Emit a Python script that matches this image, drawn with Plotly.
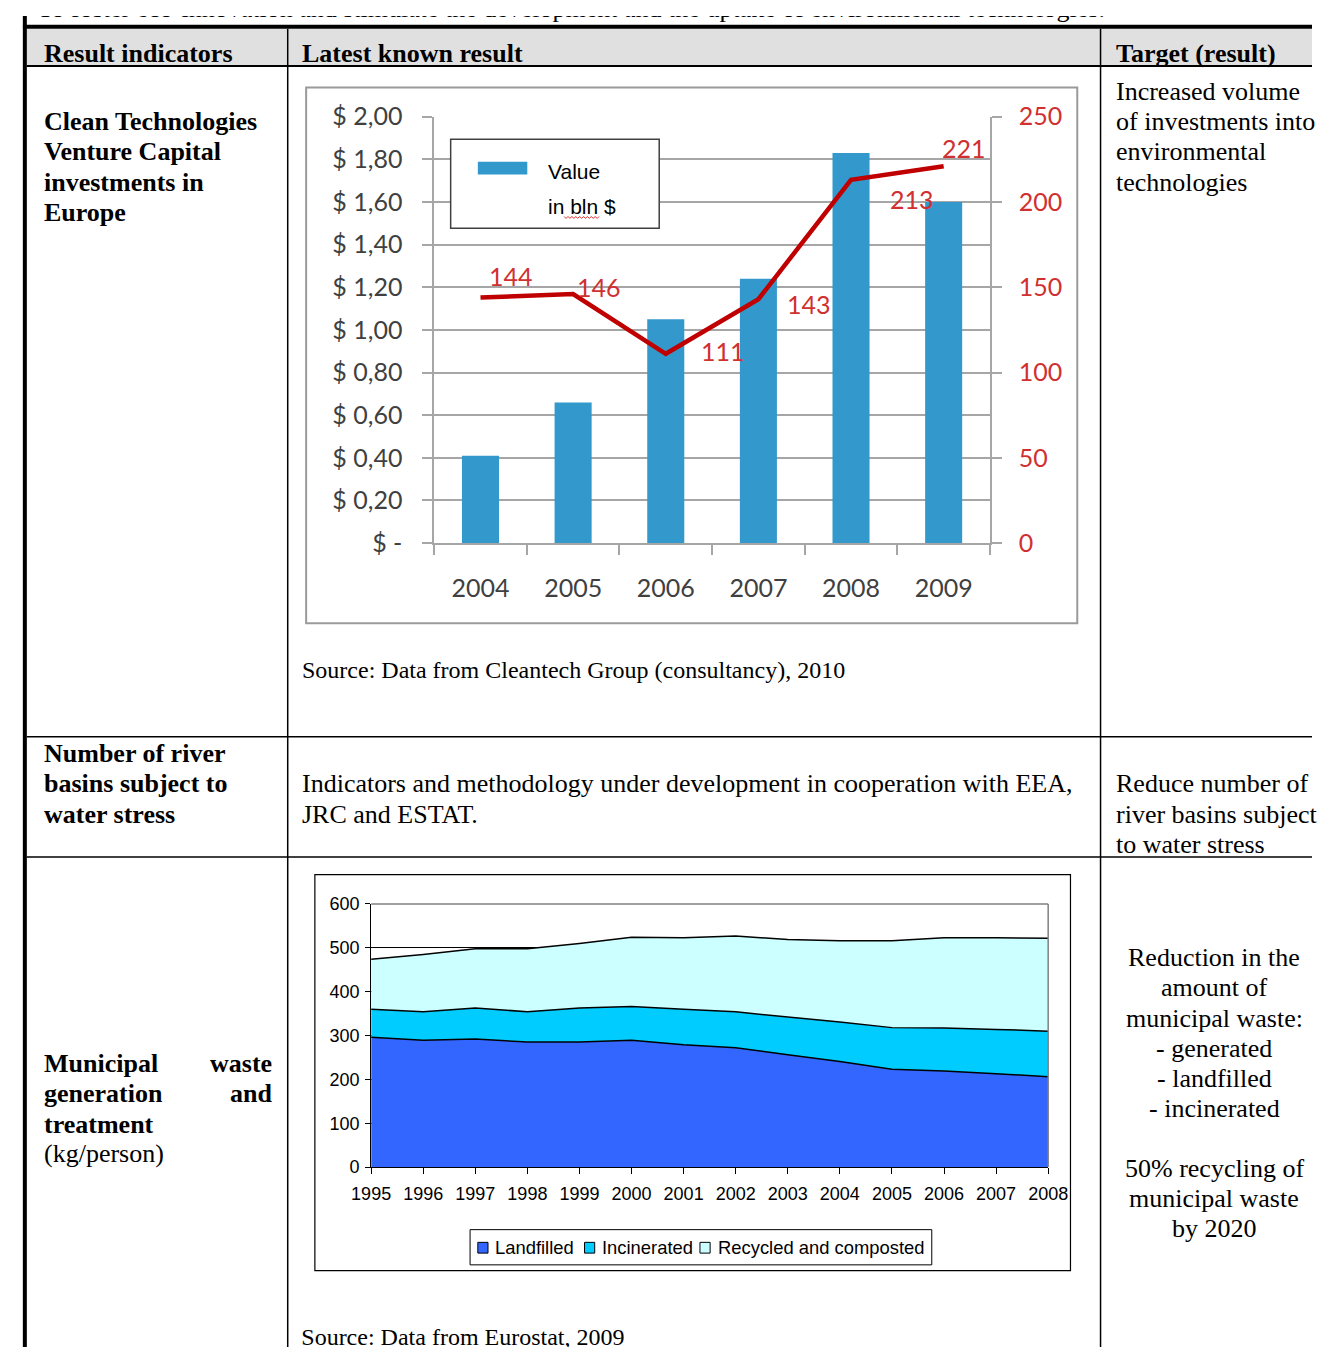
import plotly.graph_objects as go

# ---------------- data ----------------
vc_years = ["2004", "2005", "2006", "2007", "2008", "2009"]
vc_value_bln = [0.41, 0.66, 1.05, 1.24, 1.83, 1.60]
vc_deals = [144, 146, 111, 143, 213, 221]
vc_left_tickvals = [0, 0.2, 0.4, 0.6, 0.8, 1.0, 1.2, 1.4, 1.6, 1.8, 2.0]
vc_left_ticktext = ["$ -", "$ 0,20", "$ 0,40", "$ 0,60", "$ 0,80", "$ 1,00",
                    "$ 1,20", "$ 1,40", "$ 1,60", "$ 1,80", "$ 2,00"]
vc_right_tickvals = [0, 50, 100, 150, 200, 250]

waste_years = [1995, 1996, 1997, 1998, 1999, 2000, 2001,
               2002, 2003, 2004, 2005, 2006, 2007, 2008]
landfilled = [296, 289, 292, 285, 285, 289, 279, 272, 256, 241, 223, 219, 213, 206]
incinerated = [64, 65, 71, 69, 78, 77, 81, 82, 86, 90, 95, 98, 101, 104]
recycled = [114, 131, 135, 144, 147, 158, 163, 173, 177, 185, 198, 206, 209, 212]
waste_names = ["Landfilled", "Incinerated", "Recycled and composted"]
waste_tickvals = [0, 100, 200, 300, 400, 500, 600]

# ---------------- helpers ----------------
W, H = 1332, 1361
SERIF = "Liberation Serif, Times New Roman, serif"
SANS = "Liberation Sans, Arial, sans-serif"
CAL = "Lato, Carlito, Calibri, sans-serif"


def px(x):
    return x / W


def py(y):
    return 1 - y / H


annotations = []
shapes = []


def txt(x, y, s, size=26, anchor="left", bold=False, family=SERIF, color="black", yanchor="middle"):
    annotations.append(dict(
        xref="paper", yref="paper", x=px(x), y=py(y),
        text=("<b>" + s + "</b>") if bold else s,
        showarrow=False, xanchor=anchor, yanchor=yanchor, borderpad=0,
        font=dict(family=family, size=size, color=color)))


def line(x0, y0, x1, y1, color="black", width=1.5, layer="above"):
    shapes.append(dict(type="line", xref="paper", yref="paper",
                       x0=px(x0), y0=py(y0), x1=px(x1), y1=py(y1),
                       line=dict(color=color, width=width), layer=layer))


def rect(x0, y0, x1, y1, color="black", width=1, fill="rgba(0,0,0,0)", layer="above"):
    shapes.append(dict(type="rect", xref="paper", yref="paper",
                       x0=px(x0), y0=py(y1), x1=px(x1), y1=py(y0),
                       line=dict(color=color, width=width), fillcolor=fill, layer=layer))


fig = go.Figure()

# ---------------- chart 1 ----------------
fig.add_trace(go.Bar(x=vc_years, y=vc_value_bln, marker=dict(color="#3399CC", line=dict(width=0)),
                     width=0.4, xaxis="x", yaxis="y", showlegend=False, name="Value in bln $"))
fig.add_trace(go.Scatter(x=vc_years, y=vc_deals, mode="lines",
                         line=dict(color="#C00000", width=4.5),
                         xaxis="x", yaxis="y2", showlegend=False, name="deals"))

label_offsets = [(31, -22), (26, -7), (57, -3), (51, 5), (61, 19), (20, -18)]
for i, (v, (dx, dy)) in enumerate(zip(vc_deals, label_offsets)):
    annotations.append(dict(xref="x", yref="y2", x=i, y=v, text=str(v), showarrow=False,
                            xshift=dx, yshift=-dy,
                            font=dict(family=CAL, size=25, color="#D03030")))

# ---------------- chart 2 ----------------
waste_series = [landfilled, incinerated, recycled]
waste_colors = ["#3366FF", "#00CCFF", "#CCFFFF"]
for name, vals, col in zip(waste_names, waste_series, waste_colors):
    fig.add_trace(go.Scatter(x=waste_years, y=vals, name=name, stackgroup="waste",
                             mode="lines", line=dict(color="black", width=1.5),
                             fillcolor=col, xaxis="x2", yaxis="y3", showlegend=False))

# ---------------- edge texts (clipped by the page like the scanned document) ----------------
fig.add_trace(go.Scatter(
    x=[18, 290], y=[-6, 1353], mode="text",
    text=["To foster eco-innovation and stimulate the development and the uptake of environmental technologies.",
          "Source: Data from Eurostat, 2009"],
    textposition="middle right", cliponaxis=True,
    textfont=dict(family=SERIF, size=[26, 24], color="black"),
    xaxis="x3", yaxis="y4", showlegend=False, hoverinfo="skip"))

# ---------------- table lines ----------------
rect(7, 13, 1332, 50, color="rgba(0,0,0,0)", width=0, fill="#E0E0E0", layer="below")
line(3, 11, 1332, 11, width=4)
line(5, 0, 5, 1361, width=4)
line(7, 51, 1332, 51, width=2)
line(276, 13, 276, 1361, width=1.5)
line(1114, 13, 1114, 1361, width=1.5)
line(7, 737, 1332, 737, width=1.5)
line(7, 860, 1332, 860, width=1.5)

# chart 1 frame + legend
rect(295, 73, 1090, 621, color="#9A9A9A", width=2, layer="below")
rect(444, 126, 659, 217, color="#404040", width=1.5, fill="white", layer="above")
rect(472, 149, 523, 162, color="#3399CC", width=0, fill="#3399CC", layer="above")
pts = []
xx = 561
k = 0
while xx <= 598:
    pts.append((xx, 205 if k % 2 == 0 else 207))
    xx += 2
    k += 1
path = "M " + " L ".join(f"{px(a)},{py(b)}" for a, b in pts)
shapes.append(dict(type="path", xref="paper", yref="paper", path=path,
                   line=dict(color="#E03030", width=1), layer="above"))

# chart 2 frame + plot area border + legend
rect(304, 878, 1083, 1283, color="black", width=1.2, layer="below")
line(362, 908, 1060, 908, color="#808080", width=1.5)
line(1060, 908, 1060, 1177, color="#808080", width=1.5)
rect(464, 1241, 940, 1277, color="black", width=1, fill="white", layer="above")
legend_sq_x = [472, 582, 701]
legend_tx_x = [489, 599, 719]
for name, col, sx, tx in zip(waste_names, waste_colors, legend_sq_x, legend_tx_x):
    rect(sx, 1254, sx + 10.5, 1265, color="black", width=1, fill=col, layer="above")
    txt(tx, 1259.5, name, size=18.4, family=SANS)

# ---------------- texts ----------------
txt(24, 38, "Result indicators", bold=True)
txt(290, 38, "Latest known result", bold=True)
txt(1129, 38, "Target (result)", bold=True)

for i, s in enumerate(["Clean Technologies", "Venture Capital", "investments in", "Europe"]):
    txt(24, 108 + 31 * i, s, bold=True)
for i, s in enumerate(["Increased volume", "of investments into", "environmental", "technologies"]):
    txt(1129, 77 + 31 * i, s)

txt(543, 159, "Value", size=21, family=SANS)
txt(543, 195, "in bln $", size=21, family=SANS)
txt(290, 669, "Source: Data from Cleantech Group (consultancy), 2010", size=24)

for i, s in enumerate(["Number of river", "basins subject to", "water stress"]):
    txt(24, 754 + 31 * i, s, bold=True)
txt(290, 785, "Indicators and methodology under development in cooperation with EEA,")
txt(290, 816, "JRC and ESTAT.")
for i, s in enumerate(["Reduce number of", "river basins subject", "to water stress"]):
    txt(1129, 785 + 31 * i, s)

txt(24, 1071, "Municipal", bold=True)
txt(261, 1071, "waste", bold=True, anchor="right")
txt(24, 1102, "generation", bold=True)
txt(261, 1102, "and", bold=True, anchor="right")
txt(24, 1133, "treatment", bold=True)
txt(24, 1163, "(kg/person)")

right3 = ["Reduction in the", "amount of", "municipal waste:", "- generated", "- landfilled",
          "- incinerated", "", "50% recycling of", "municipal waste", "by 2020"]
for i, s in enumerate(right3):
    if s:
        txt(1231, 963 + 30.8 * i, s, anchor="center")

# ---------------- layout ----------------
GRID1 = "#A6A6A6"
fig.update_layout(
    width=W, height=H, autosize=False,
    margin=dict(l=0, r=0, t=0, b=0),
    paper_bgcolor="white", plot_bgcolor="rgba(0,0,0,0)",
    bargap=0.6,
    xaxis=dict(domain=[px(427), px(1000)], anchor="y", type="category",
               range=[-0.5, 5.5], tickson="boundaries", ticks="outside", ticklen=10,
               tickcolor=GRID1, tickwidth=1.5, showline=True, linecolor=GRID1, linewidth=1.5,
               showgrid=False, tickfont=dict(family=CAL, size=25, color="#404040"),
               ticklabelstandoff=22, fixedrange=True),
    yaxis=dict(domain=[py(539), py(103)], anchor="x", range=[0, 2.0],
               tickvals=vc_left_tickvals, ticktext=vc_left_ticktext,
               ticks="outside", ticklen=10, tickcolor=GRID1, tickwidth=1.5,
               showline=True, linecolor=GRID1, linewidth=1.5,
               showgrid=True, gridcolor=GRID1, gridwidth=1.5, zeroline=False,
               tickfont=dict(family=CAL, size=25, color="#404040"),
               ticklabelstandoff=15, fixedrange=True),
    yaxis2=dict(overlaying="y", side="right", anchor="x", range=[0, 250],
                tickvals=vc_right_tickvals, ticks="outside", ticklen=10,
                tickcolor=GRID1, tickwidth=1.5, showline=True, linecolor=GRID1, linewidth=1.5,
                showgrid=False, zeroline=False,
                tickfont=dict(family=CAL, size=25, color="#D03030"),
                ticklabelstandoff=12, fixedrange=True),
    xaxis2=dict(domain=[px(362), px(1060)], anchor="y3", range=[1995, 2008],
                tickvals=waste_years, ticks="outside", ticklen=6, tickcolor="black",
                showline=True, linecolor="black", linewidth=1.2, showgrid=False, zeroline=False,
                tickfont=dict(family=SANS, size=18, color="black"),
                ticklabelstandoff=4, fixedrange=True),
    yaxis3=dict(domain=[py(1177), py(908)], anchor="x2", range=[0, 600],
                tickvals=waste_tickvals, ticks="outside", ticklen=5, tickcolor="black",
                showline=True, linecolor="black", linewidth=1.2,
                showgrid=True, gridcolor="black", gridwidth=1, zeroline=False,
                tickfont=dict(family=SANS, size=18, color="black"),
                ticklabelstandoff=2, fixedrange=True),
    xaxis3=dict(domain=[0, 1], range=[0, W], visible=False, anchor="y4", fixedrange=True),
    yaxis4=dict(domain=[0, 1], range=[H, 0], visible=False, anchor="x3", fixedrange=True),
    showlegend=False,
    annotations=annotations,
    shapes=shapes,
)

fig.write_html("out.html", config={"displayModeBar": False},
               post_script="document.body.style.margin='0px';"
                           "document.documentElement.style.overflow='hidden';"
                           "document.body.style.overflow='hidden';")
